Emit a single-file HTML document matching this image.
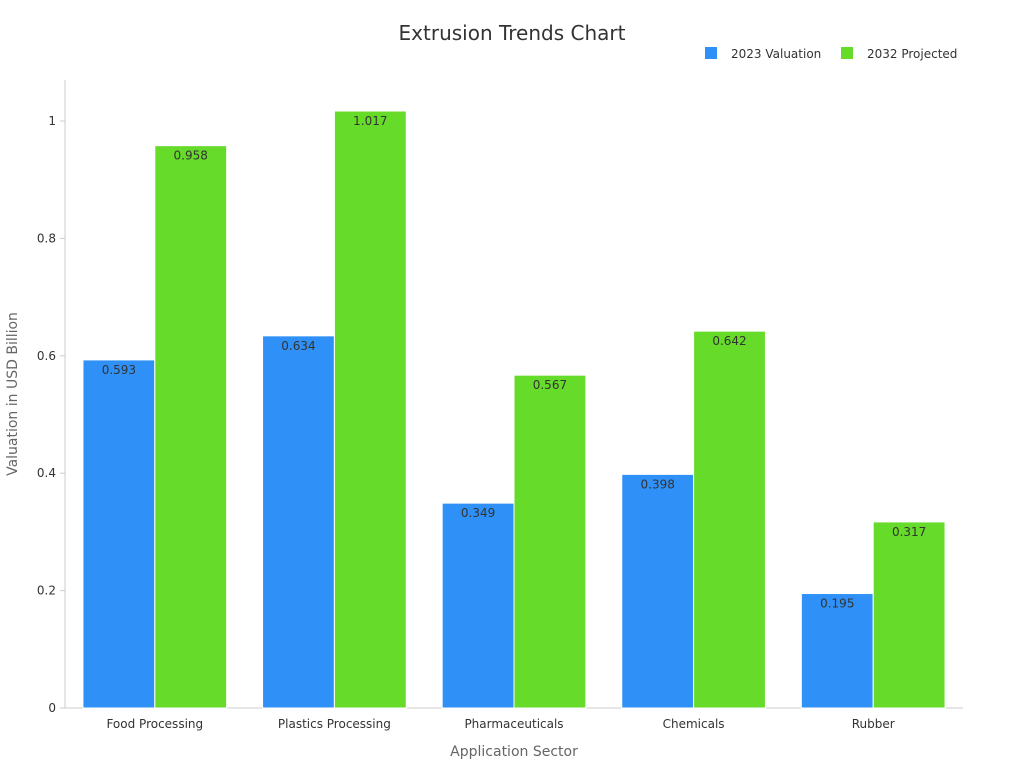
<!DOCTYPE html>
<html><head><meta charset="utf-8"><style>
body{margin:0;background:#fff;font-family:"DejaVu Sans","Liberation Sans",sans-serif;}
svg text{font-family:"DejaVu Sans","Liberation Sans",sans-serif;}
</style></head><body>
<svg id="chart" width="1024" height="768">
<text x="512" y="40" text-anchor="middle" font-size="20" fill="#333">Extrusion Trends Chart</text>
<g>
<rect x="705" y="47" width="12" height="12" fill="#2f91f7"/>
<text x="731" y="58" font-size="12" fill="#333">2023 Valuation</text>
<rect x="841" y="47" width="12" height="12" fill="#66db29"/>
<text x="867" y="58" font-size="12" fill="#333">2032 Projected</text>
</g>
<text transform="translate(17,394) rotate(-90)" text-anchor="middle" font-size="14" fill="#666">Valuation in USD Billion</text>
<text x="514" y="756" text-anchor="middle" font-size="14" fill="#666">Application Sector</text>
<g id="axes"></g>
<g id="bars"></g>
</svg>
<script>
const categories=["Food Processing","Plastics Processing","Pharmaceuticals","Chemicals","Rubber"];
const values2023=[0.593,0.634,0.349,0.398,0.195];
const values2032=[0.958,1.017,0.567,0.642,0.317];
const yTicks=[0,0.2,0.4,0.6,0.8,1];
const yTickLabels=["0","0.2","0.4","0.6","0.8","1"];
const NS="http://www.w3.org/2000/svg";
const x0=65,x1=963,y0=708,yTop=121;
const band=(x1-x0)/categories.length;
function yScale(v){return y0-(y0-yTop)*v;}
function xCenter(i){return x0+band*(i+0.5);}
function mk(tag,attrs,parent){const e=document.createElementNS(NS,tag);for(const k in attrs)e.setAttribute(k,attrs[k]);parent.appendChild(e);return e;}
const axes=document.getElementById('axes'),bars=document.getElementById('bars');
let l=mk('line',{x1:x0,y1:80,x2:x0,y2:y0,stroke:'#ccc'},axes);


l=mk('line',{x1:x0-5,y1:y0,x2:x1,y2:y0,stroke:'#ccc'},axes);


yTicks.forEach((t,i)=>{
 const y=yScale(t);
 const tk=mk('line',{x1:x0-5,y1:y,x2:x0,y2:y,stroke:'#ccc'},axes);
 
 
 const tx=mk('text',{x:x0-9,y:y+4,'text-anchor':'end','font-size':12,fill:'#333'},axes);
 tx.textContent=yTickLabels[i];
 
 
});
const bw=band*0.4;
categories.forEach((c,i)=>{
 const cx=xCenter(i);
 const tx=mk('text',{x:cx,y:y0+20,'text-anchor':'middle','font-size':12,fill:'#333'},axes);
 tx.textContent=c;
 
 
 [[values2023,'#2f91f7',cx-bw,'2023'],[values2032,'#66db29',cx,'2032']].forEach(([arr,col,x,s])=>{
  const v=arr[i],y=yScale(v);
  const r=mk('rect',{x:x,y:y,width:bw,height:y0-y,fill:col,stroke:'#fff','stroke-width':1},bars);
  
  
  const t=mk('text',{x:x+bw/2,y:y+14,'text-anchor':'middle','font-size':12,fill:'#333'},bars);
  t.textContent=v.toFixed(3);
  
  
 });
});
</script>
</body></html>
